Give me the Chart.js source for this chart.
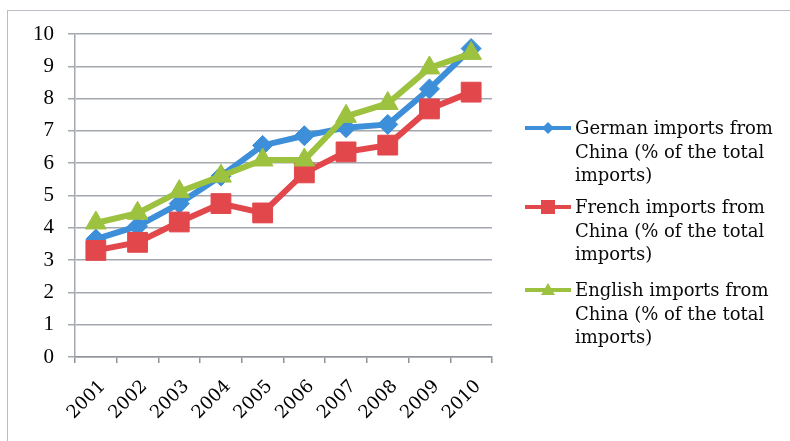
<!DOCTYPE html>
<html>
<head>
<meta charset="utf-8">
<script src="https://cdn.jsdelivr.net/npm/chart.js@4.4.1/dist/chart.umd.min.js"></script>
<style>
  html, body { margin: 0; padding: 0; background: #fff; }
  #wrap { position: relative; width: 790px; height: 441px; overflow: hidden; }
  #frame { position: absolute; left: 7px; top: 10px; width: 900px; height: 600px;
           border-left: 1.5px solid #b9bdc7; border-top: 1.5px solid #b9bdc7; box-sizing: border-box; }
  #c { position: absolute; left: 0; top: 0; }
  .leg { position: absolute; left: 524px; font-family: "DejaVu Serif", serif; font-size: 18px;
         line-height: 23.5px; color: #0a0a0a; }
  .leg .mk { position: absolute; left: 0; top: 1px; }
  .leg .tx { position: absolute; left: 51px; top: 0; white-space: nowrap; }
</style>
</head>
<body>
<div id="wrap">
  <div id="frame"></div>
  <canvas id="c" width="790" height="441"></canvas>
  <div class="leg" id="leg0" style="top:116px"></div>
  <div class="leg" id="leg1" style="top:195px"></div>
  <div class="leg" id="leg2" style="top:278px"></div>
</div>
<script>
const years = ["2001","2002","2003","2004","2005","2006","2007","2008","2009","2010"];
const german = [3.65, 4.05, 4.75, 5.6, 6.55, 6.85, 7.1, 7.2, 8.3, 9.55];
const french = [3.3, 3.55, 4.18, 4.75, 4.46, 5.7, 6.35, 6.56, 7.68, 8.2];
const english = [4.15, 4.45, 5.12, 5.6, 6.1, 6.1, 7.45, 7.85, 8.95, 9.4];
const seriesNames = [
  ["German imports from", "China (% of the total", "imports)"],
  ["French imports from", "China (% of the total", "imports)"],
  ["English imports from", "China (% of the total", "imports)"]
];
const yTicks = [0,1,2,3,4,5,6,7,8,9,10];

const colors = ["#3c8fd8", "#e2474b", "#9dc240"];
const styles = ["rectRot", "rect", "triangle"];
const radii = [10, 14, 12];

const serif = "'Liberation Serif', 'Times New Roman', serif";

new Chart(document.getElementById('c'), {
  type: 'line',
  data: {
    labels: years,
    datasets: [
      { label: seriesNames[0].join(' '), data: german, order: 3 },
      { label: seriesNames[1].join(' '), data: french, order: 2 },
      { label: seriesNames[2].join(' '), data: english, order: 1 }
    ].map((d, i) => Object.assign(d, {
      borderColor: colors[i], backgroundColor: colors[i],
      pointBackgroundColor: colors[i], pointBorderColor: colors[i],
      borderWidth: 6, pointStyle: styles[i], pointRadius: radii[i],
      pointBorderWidth: 1, tension: 0, fill: false
    }))
  },
  options: {
    responsive: false, animation: false,
    layout: { padding: { left: 0, top: 34, right: 298, bottom: 0 } },
    plugins: { legend: { display: false }, tooltip: { enabled: false } },
    scales: {
      x: {
        offset: true,
        grid: { offset: true, drawOnChartArea: false, drawTicks: true, tickLength: 6, color: '#8f939b', lineWidth: 1.5 },
        border: { color: '#8f939b', width: 1.5 },
        ticks: { color: '#000', font: { family: "'DejaVu Serif', serif", size: 18 }, maxRotation: 45, minRotation: 45, padding: 13, labelOffset: 7 },
        afterFit: s => { s.height = 84; }
      },
      y: {
        min: 0, max: 10,
        afterBuildTicks: s => { s.ticks = yTicks.map(v => ({ value: v })); },
        grid: { color: '#a3a7ae', lineWidth: 1.5, tickLength: 7 },
        border: { color: '#a3a7ae', width: 1.5 },
        ticks: { color: '#000', font: { family: serif, size: 21 }, padding: 14 },
        afterFit: s => { s.width = 75; }
      }
    }
  }
});

// HTML legend
function markerSVG(i) {
  const c = colors[i];
  let m;
  if (i === 0) m = `<polygon points="24,5 30,11 24,17 18,11" fill="${c}"/>`;
  else if (i === 1) m = `<rect x="17" y="4" width="14" height="14" fill="${c}"/>`;
  else m = `<polygon points="24,4 31,16 17,16" fill="${c}"/>`;
  return `<svg width="48" height="22" viewBox="0 0 48 22"><line x1="1" y1="11" x2="47" y2="11" stroke="${c}" stroke-width="4"/>${m}</svg>`;
}
seriesNames.forEach((lines, i) => {
  const el = document.getElementById('leg' + i);
  el.innerHTML = `<div class="mk">${markerSVG(i)}</div><div class="tx">${lines.join('<br>')}</div>`;
});
</script>
</body>
</html>
